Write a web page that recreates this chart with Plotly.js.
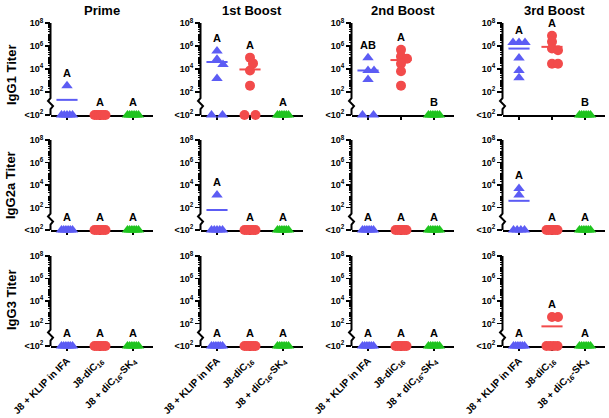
<!DOCTYPE html>
<html>
<head>
<meta charset="utf-8">
<script src="https://cdn.plot.ly/plotly-3.0.1.min.js"></script>
<style>html,body{margin:0;padding:0;background:#fff;}#chart{width:609px;height:418px;}</style>
</head>
<body>
<div id="chart"></div>
<script>
// ---------------- DATA (log10 titers; 0 = below detection "<10²") ----------------
const timepoints = ["Prime", "1st Boost", "2nd Boost", "3rd Boost"];
const isotypes = ["IgG1 Titer", "IgG2a Titer", "IgG3 Titer"];
const groups = ["J8 + KLIP in IFA", "J8-diC<sub>16</sub>", "J8 + diC<sub>16</sub>-SK<sub>4</sub>"];
const yTickVals = [1, 1e2, 1e4, 1e6, 1e8];
const yTickText = ["<10<sup>2</sup>", "10<sup>2</sup>", "10<sup>4</sup>", "10<sup>6</sup>", "10<sup>8</sup>"];

// each array: one entry per timepoint, each entry = 6 mice
const IgG1_KLIP  = [[2.56,0,0,0,0,0],[5.59,4.85,4.41,3.18,0,0],[5.00,3.88,3.88,3.09,0,0],[6.32,6.32,6.32,4.97,3.88,3.24]];
const IgG1_diC16 = [[0,0,0,0,0,0],[5.00,4.50,3.88,2.56,0,0],[5.68,5.09,4.91,4.47,3.82,2.56],[6.91,6.38,5.79,5.65,4.47,4.47]];
const IgG1_SK4   = [[0,0,0,0,0,0],[0,0,0,0,0,0],[0,0,0,0,0,0],[0,0,0,0,0,0]];
const IgG2a_KLIP  = [[0,0,0,0,0,0],[3.11,0,0,0,0,0],[0,0,0,0,0,0],[3.70,3.11,0,0,0,0]];
const IgG2a_diC16 = [[0,0,0,0,0,0],[0,0,0,0,0,0],[0,0,0,0,0,0],[0,0,0,0,0,0]];
const IgG2a_SK4   = [[0,0,0,0,0,0],[0,0,0,0,0,0],[0,0,0,0,0,0],[0,0,0,0,0,0]];
const IgG3_KLIP  = [[0,0,0,0,0,0],[0,0,0,0,0,0],[0,0,0,0,0,0],[0,0,0,0,0,0]];
const IgG3_diC16 = [[0,0,0,0,0,0],[0,0,0,0,0,0],[0,0,0,0,0,0],[2.58,2.58,0,0,0,0]];
const IgG3_SK4   = [[0,0,0,0,0,0],[0,0,0,0,0,0],[0,0,0,0,0,0],[0,0,0,0,0,0]];

// group mean lines (log10), null = not shown
const IgG1_KLIP_mean  = [1.32, 4.62, 3.88, 5.79];
const IgG1_diC16_mean = [null, 3.97, 4.79, 5.94];
const IgG1_SK4_mean   = [null, null, null, null];
const IgG2a_KLIP_mean  = [null, 1.78, null, 2.60];
const IgG2a_diC16_mean = [null, null, null, null];
const IgG2a_SK4_mean   = [null, null, null, null];
const IgG3_KLIP_mean  = [null, null, null, null];
const IgG3_diC16_mean = [null, null, null, 1.75];
const IgG3_SK4_mean   = [null, null, null, null];

// statistical letters per timepoint per group
const IgG1_letters  = [["A","A","A"],["A","A","A"],["AB","A","B"],["A","A","B"]];
const IgG2a_letters = [["A","A","A"],["A","A","A"],["A","A","A"],["A","A","A"]];
const IgG3_letters  = [["A","A","A"],["A","A","A"],["A","A","A"],["A","A","A"]];

// ---------------- STYLE / LAYOUT ----------------
const data = [
  [IgG1_KLIP, IgG1_diC16, IgG1_SK4],
  [IgG2a_KLIP, IgG2a_diC16, IgG2a_SK4],
  [IgG3_KLIP, IgG3_diC16, IgG3_SK4]
];
const means = [
  [IgG1_KLIP_mean, IgG1_diC16_mean, IgG1_SK4_mean],
  [IgG2a_KLIP_mean, IgG2a_diC16_mean, IgG2a_SK4_mean],
  [IgG3_KLIP_mean, IgG3_diC16_mean, IgG3_SK4_mean]
];
const letters = [IgG1_letters, IgG2a_letters, IgG3_letters];

const colors = ["#5c5cf4", "#f24b4b", "#1fc41f"];
const symbols = ["triangle-up", "circle", "triangle-up"];
const sizes = [10, 10, 10];

const W = 609, H = 418;
const colX0 = [51, 201, 352, 503], colW = 102;
const rowTop = [23, 140, 256], rowH = [92, 90, 90];
const catPx = 33, firstCatOff = 16;
const xRange = [-firstCatOff / catPx, (colW - firstCatOff) / catPx];
const yRange = [0, 8.02];
const FONT = "Liberation Sans, Arial, Helvetica, sans-serif";

function swarm(vals, pxPerDec) {
  const off = new Array(vals.length).fill(0);
  const base = [];
  vals.forEach((v, i) => { if (v === 0) base.push(i); });
  if (base.length > 1) {
    base.forEach((idx, j) => { off[idx] = (-5.5 + 11 * j / (base.length - 1)) / catPx; });
  }
  const placed = [];
  const D = 6, step = 3;
  vals.forEach((v, i) => {
    if (v === 0) return;
    const py = v * pxPerDec;
    const cands = [0];
    for (let k = 1; k < 10; k++) { cands.push(k * step, -k * step); }
    for (const c of cands) {
      if (placed.every(p => Math.hypot(p[0] - c, p[1] - py) >= D)) {
        placed.push([c, py]); off[i] = c / catPx; break;
      }
    }
  });
  return off;
}

const minorVals = [];
for (let k = 2; k <= 7; k++) for (let m = 2; m <= 10; m++) {
  const v = m * Math.pow(10, k);
  if (![1e4, 1e6, 1e8].includes(v)) minorVals.push(v);
}

const traces = [];
const layout = {
  width: W, height: H,
  margin: {l: 0, r: 0, t: 0, b: 0},
  paper_bgcolor: "#fff", plot_bgcolor: "#fff",
  showlegend: false,
  font: {family: FONT, color: "#000"},
  annotations: [], shapes: []
};

for (let r = 0; r < 3; r++) {
  for (let c = 0; c < 4; c++) {
    const k = r * 4 + c + 1;
    const xs = k === 1 ? "" : String(k);
    const xa = "x" + xs, ya = "y" + xs;
    const pxPerDec = rowH[r] / (yRange[1] - yRange[0]);
    layout["xaxis" + xs] = {
      domain: [colX0[c] / W, (colX0[c] + colW) / W],
      range: xRange, anchor: ya,
      showline: true, linecolor: "#000", linewidth: 2,
      ticks: "outside", ticklen: 3, tickwidth: 1.5, tickcolor: "#000",
      tickmode: "array", tickvals: [0, 1, 2], ticktext: groups,
      showticklabels: r === 2, tickangle: -45,
      tickfont: {family: FONT, size: 10, weight: "bold", color: "#000"},
      showgrid: false, zeroline: false, layer: "below traces",
      automargin: false, fixedrange: true
    };
    layout["yaxis" + xs] = {
      domain: [1 - (rowTop[r] + rowH[r]) / H, 1 - rowTop[r] / H],
      type: "log", range: yRange, anchor: xa,
      showline: false,
      ticks: "outside", ticklen: 5, tickwidth: 1.5, tickcolor: "#000",
      tickmode: "array", tickvals: yTickVals, ticktext: yTickText,
      minor: {ticks: "outside", tickmode: "array", tickvals: minorVals, ticklen: 2.5, tickwidth: 1, tickcolor: "#000"},
      tickfont: {family: FONT, size: 9, weight: "bold", color: "#000"},
      showgrid: false, zeroline: false, automargin: false, fixedrange: true
    };
    // y-axis line with break
    const X = px => px / W, Y = px => 1 - px / H;
    const ax = colX0[c] - 0.5;
    const top = rowTop[r], base = rowTop[r] + rowH[r];
    const y2 = base - 2 * pxPerDec;
    layout.shapes.push({
      type: "path", xref: "paper", yref: "paper",
      path: `M ${X(ax)},${Y(top)} L ${X(ax)},${Y(y2 + 6)} L ${X(ax - 2.5)},${Y(y2 + 9)} L ${X(ax + 2.5)},${Y(y2 + 14)} L ${X(ax)},${Y(y2 + 17)} L ${X(ax)},${Y(base)}`,
      line: {color: "#000", width: 2}
    });

    for (let g = 0; g < 3; g++) {
      const vals = data[r][g][c];
      const m = means[r][g][c];
      if (m !== null) {
        traces.push({
          type: "scatter", mode: "lines", xaxis: xa, yaxis: ya,
          x: [g - 0.32, g + 0.32], y: [Math.pow(10, m), Math.pow(10, m)],
          line: {color: colors[g], width: 2}, hoverinfo: "skip", cliponaxis: false
        });
      }
      const off = swarm(vals, pxPerDec);
      traces.push({
        type: "scatter", mode: "markers", xaxis: xa, yaxis: ya,
        x: vals.map((v, i) => g + off[i]),
        y: vals.map(v => Math.pow(10, v)),
        marker: {symbol: symbols[g], size: sizes[g], color: colors[g], line: {width: 0}},
        cliponaxis: false
      });
      const maxV = Math.max(...vals);
      layout.annotations.push({
        xref: xa, yref: ya, x: g, y: maxV, yshift: 13,
        text: letters[r][c][g], showarrow: false, xanchor: "center", yanchor: "middle",
        font: {family: FONT, size: 11, weight: "bold", color: "#000"}
      });
    }
    if (r === 0) {
      layout.annotations.push({
        xref: "paper", yref: "paper", x: (colX0[c] + colW / 2) / W, y: 1 - 11 / H,
        text: timepoints[c], showarrow: false, xanchor: "center", yanchor: "middle",
        font: {family: FONT, size: 13, weight: "bold", color: "#000"}
      });
    }
  }
  const rowCenters = [75, 185, 300];
  layout.annotations.push({
    xref: "paper", yref: "paper", x: 11 / W, y: 1 - rowCenters[r] / H,
    text: isotypes[r], showarrow: false, textangle: -90, xanchor: "center", yanchor: "middle",
    font: {family: FONT, size: 13, weight: "bold", color: "#000"}
  });
}

Plotly.newPlot("chart", traces, layout, {displayModeBar: false, staticPlot: true});
</script>
</body>
</html>
